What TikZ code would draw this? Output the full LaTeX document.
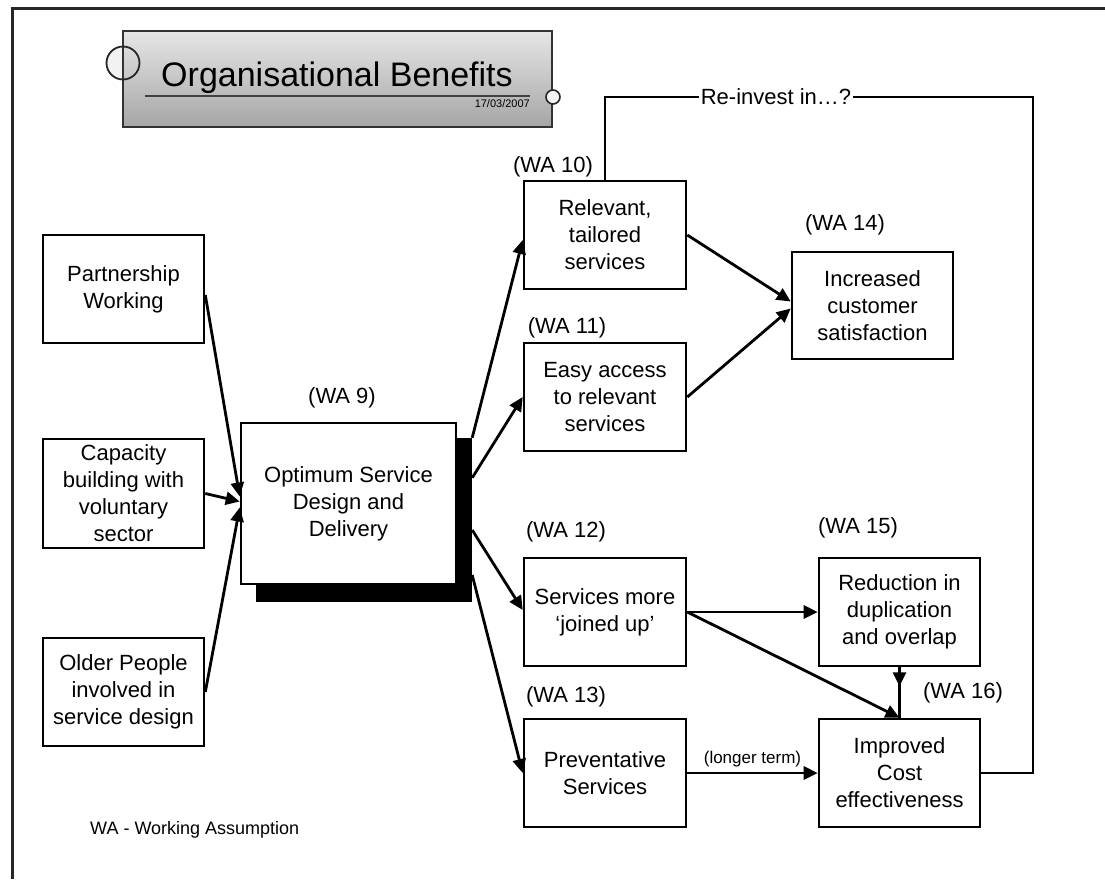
\documentclass[tikz,border=0pt]{standalone}
\usepackage{fontspec}
\setmainfont{Liberation Sans}
\usetikzlibrary{arrows.meta,calc}
\tikzset{
  bx/.style={draw, line width=2.6pt, fill=white, align=center, inner sep=0pt,
    minimum width=161pt, minimum height=108pt, font=\fontsize{22}{27}\selectfont},
  wa/.style={font=\fontsize{22}{27}\selectfont, inner sep=0pt},
  arr/.style={line width=2.8pt, -{Triangle[length=14pt,width=13pt]}},
  ln/.style={line width=2.8pt},
}
\begin{document}
\begin{tikzpicture}[x=1pt,y=-1pt]
\useasboundingbox (0,0) rectangle (1105,879);
% outer frame
\draw[line width=3pt, black!85] (1105,8) -- (12,8) -- (12,879);

% title
\fill[gray!10] (123,63) circle (16.5);
\shade[top color=gray!20, bottom color=gray!70, draw=black!80, line width=2pt]
  (123,31) rectangle (552,127);
\draw[line width=1.8pt, black!85] (123,63) circle (16.5);
\draw[line width=2pt, black!75] (145,96) -- (530,96);
\node[anchor=base, inner sep=0pt, font=\fontsize{34}{40}\selectfont] (title) at (337,86) {Organisational Benefits};
\node[anchor=base east, inner sep=0pt, font=\fontsize{11}{13}\selectfont] (date) at (530,107) {17/03/2007};
\filldraw[fill=gray!10, draw=black!85, line width=1.6pt] (553,97) circle (7);

% left boxes
\node[bx] (pw) at (123.5,289) {Partnership\\Working};
\node[bx, minimum height=109pt] (cap) at (123.5,493.5) {Capacity\\building with\\voluntary\\sector};
\node[bx] (old) at (123.5,692) {Older People\\involved in\\service design};

% central box with shadow
\node[fill=black, inner sep=0pt, minimum width=216pt, minimum height=164pt] (sh) at (364,520) {};
\node[bx, minimum width=215pt, minimum height=161pt] (opt) at (348.5,503.5) {Optimum Service\\Design and\\Delivery};
\node[wa] (wa9) at (342,398) {(WA 9)};

% middle column
\node[bx, minimum width=162pt] (rel) at (605,235) {Relevant,\\tailored\\services};
\node[bx, minimum width=162pt] (easy) at (605,397) {Easy access\\to relevant\\services};
\node[bx, minimum width=162pt] (serv) at (605,612) {Services more\\‘joined up’};
\node[bx, minimum width=162pt] (prev) at (605,773) {Preventative\\Services};
\node[wa] (wa10) at (553,167) {(WA 10)};
\node[wa] (wa11) at (567,328) {(WA 11)};
\node[wa] (wa12) at (566,532) {(WA 12)};
\node[wa] (wa13) at (566,697) {(WA 13)};

% right column
\node[bx, minimum height=107pt] (inc) at (872.5,305.5) {Increased\\customer\\satisfaction};
\node[bx] (red) at (899.5,612) {Reduction in\\duplication\\and overlap};
\node[bx] (imp) at (899.5,773) {Improved\\Cost\\effectiveness};
\node[wa] (wa14) at (845,225) {(WA 14)};
\node[wa] (wa15) at (858,528) {(WA 15)};
\node[wa] (wa16) at (963,693) {(WA 16)};

% inputs to optimum
\draw[arr] ($(pw.east)+(0,6)$) -- ($(opt.west)+(0,-7)$);
\draw[arr] (cap.east) -- ($(opt.west)+(0,-2)$);
\draw[arr] (old.east) -- ($(opt.west)+(0,4)$);

% outputs of optimum
\draw[arr] (sh.north east) -- ($(rel.west)+(0,5)$);
\draw[arr] ($(sh.north east)+(0,40)$) -- (easy.west);
\draw[arr] ($(sh.east)+(0,10)$) -- ($(serv.west)+(0,-2)$);
\draw[arr] ($(sh.east)+(0,55)$) -- (prev.west);

% to increased satisfaction
\draw[arr] (rel.east) -- ($(inc.west)+(0,-4)$);
\draw[arr] (easy.east) -- ($(inc.west)+(0,3)$);

% joined up
\draw[arr] (serv.east) -- (red.west);
\draw[arr] (serv.east) -- (imp.north);
\coordinate (rm) at ($(red.south)+(0,19)$);
\draw[ln] (red.south) -- (imp.north);
\draw[arr] (red.south) -- (rm);

% preventative
\draw[arr] (prev.east) -- node[above=5pt, inner sep=0pt, font=\fontsize{17}{20}\selectfont] {(longer term)} (imp.west);

% re-invest loop
\coordinate (lt) at (605,97);
\coordinate (rt) at (1033,97);
\draw[ln] (rel.north) -- (lt) -- (rt) -- (rt |- imp.east) -- (imp.east);
\node[fill=white, inner xsep=2pt, inner ysep=1pt, font=\fontsize{22}{27}\selectfont] (reinv) at (776,97) {Re-invest in…?};

% footnote
\node[anchor=west, inner sep=0pt, font=\fontsize{18}{22}\selectfont] (foot) at (90,830) {WA - Working Assumption};
\end{tikzpicture}
\end{document}
